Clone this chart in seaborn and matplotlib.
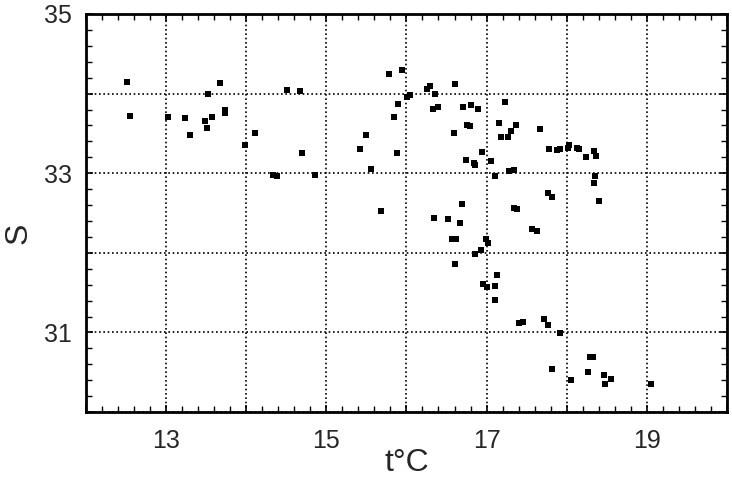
import matplotlib
matplotlib.use("Agg")
import matplotlib.pyplot as plt
from matplotlib.ticker import MultipleLocator, FuncFormatter
import seaborn as sns
import pandas as pd

temperature = [
    12.51, 12.55, 13.02, 13.23, 13.30, 13.48, 13.51, 13.57, 13.52, 13.67,
    13.73, 13.74, 13.98, 14.11, 14.34, 14.38, 14.51, 14.67, 14.70, 14.86,
    15.42, 15.50, 15.56, 15.68, 15.78, 15.84, 15.89, 15.88, 15.95, 16.01,
    16.05, 16.26, 16.29, 16.36, 16.61, 16.33, 16.40, 16.70, 16.81, 16.89,
    16.59, 16.76, 16.79, 16.74, 16.84, 16.85, 16.94, 17.06, 17.10, 17.16,
    17.18, 17.27, 17.31, 17.37, 17.23, 17.28, 17.34, 16.69, 17.34, 17.38,
    17.67, 17.78, 17.88, 17.92, 18.02, 18.03, 18.13, 18.16, 18.24, 18.34,
    18.37, 18.36, 18.34, 18.40, 17.77, 17.82, 17.57, 17.63, 16.35, 16.52,
    16.67, 16.57, 16.62, 16.99, 17.02, 16.93, 16.85, 16.60, 17.13, 16.95,
    17.00, 17.11, 17.11, 17.40, 17.46, 17.72, 17.77, 17.92, 17.82, 18.05,
    18.27, 18.29, 18.33, 18.46, 18.48, 18.55, 19.05,
]
salinity = [
    34.14, 33.72, 33.71, 33.69, 33.48, 33.66, 33.57, 33.70, 34.00, 34.13,
    33.79, 33.76, 33.35, 33.51, 32.98, 32.97, 34.05, 34.03, 33.25, 32.98,
    33.30, 33.48, 33.05, 32.53, 34.24, 33.70, 33.87, 33.26, 34.30, 33.96,
    33.98, 34.06, 34.10, 34.00, 34.12, 33.81, 33.83, 33.83, 33.86, 33.81,
    33.50, 33.60, 33.59, 33.17, 33.13, 33.10, 33.27, 33.15, 32.97, 33.63,
    33.45, 33.46, 33.53, 33.60, 33.90, 33.03, 33.04, 32.61, 32.56, 32.55,
    33.56, 33.31, 33.29, 33.31, 33.32, 33.35, 33.32, 33.30, 33.21, 33.28,
    33.22, 32.97, 32.88, 32.65, 32.75, 32.70, 32.30, 32.28, 32.44, 32.42,
    32.38, 32.18, 32.18, 32.18, 32.13, 32.03, 31.99, 31.86, 31.72, 31.61,
    31.57, 31.59, 31.41, 31.12, 31.13, 31.17, 31.10, 30.99, 30.54, 30.40,
    30.50, 30.69, 30.69, 30.46, 30.35, 30.41, 30.35,
]

x_labelled = [13, 15, 17, 19]
y_labelled = [31, 33, 35]

df = pd.DataFrame({"t": temperature, "S": salinity})

sns.set_theme(style="white")
plt.rcParams["font.family"] = ["Liberation Sans", "DejaVu Sans"]

fig = plt.figure(figsize=(7.32, 4.82), dpi=100)
ax = fig.add_axes([0.1175, 0.145, 0.8755, 0.826])

sns.scatterplot(data=df, x="t", y="S", marker="s", s=15, color="black",
                linewidth=0, ax=ax, zorder=3)

ax.set_xlim(12, 20)
ax.set_ylim(30, 35)

ax.xaxis.set_major_locator(MultipleLocator(1))
ax.xaxis.set_minor_locator(MultipleLocator(0.2))
ax.yaxis.set_major_locator(MultipleLocator(1))
ax.yaxis.set_minor_locator(MultipleLocator(0.2))

ax.xaxis.set_major_formatter(FuncFormatter(
    lambda v, p: f"{int(round(v))}" if int(round(v)) in x_labelled else ""))
ax.yaxis.set_major_formatter(FuncFormatter(
    lambda v, p: f"{int(round(v))}" if int(round(v)) in y_labelled else ""))

ax.tick_params(which="both", direction="in", top=True, right=True,
               bottom=True, left=True, color="black")
ax.tick_params(which="major", length=5, width=1.2, labelsize=18)
ax.tick_params(axis="x", which="major", pad=12)
ax.tick_params(axis="y", which="major", pad=10)
ax.tick_params(which="minor", length=4, width=1.0)

ax.grid(True, which="major", color="black", linestyle=(0, (1, 1.6)),
        linewidth=1.2)

for sp in ax.spines.values():
    sp.set_visible(True)
    sp.set_color("black")
    sp.set_linewidth(2)

ax.set_xlabel("t°C", fontsize=23)
ax.xaxis.set_label_coords(0.5, -0.09)
ax.set_ylabel("S", fontsize=23)
ax.yaxis.set_label_coords(-0.082, 0.45)

fig.savefig("out.png", dpi=100)
